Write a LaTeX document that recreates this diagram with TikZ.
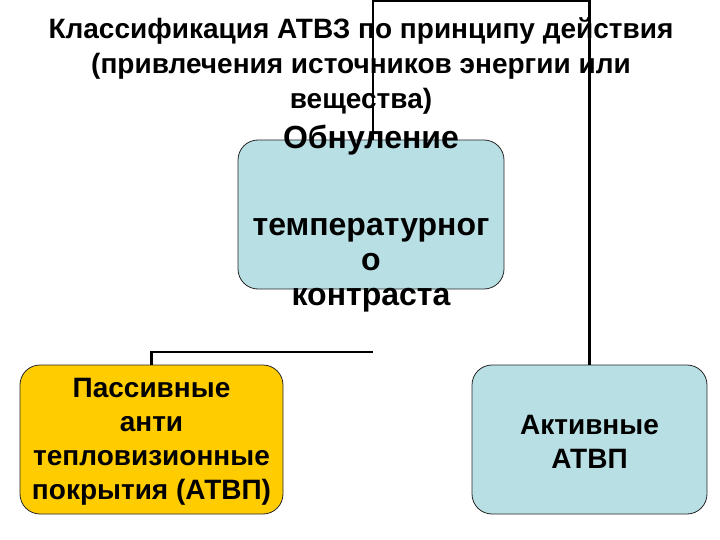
\documentclass[tikz,border=0pt]{standalone}
\usepackage{fontspec}
\setmainfont{Liberation Sans}
\usetikzlibrary{positioning}
\definecolor{paleteal}{HTML}{B8DFE3}
\definecolor{goldyellow}{HTML}{FFCC00}

\begin{document}
\begin{tikzpicture}[x=1pt, y=-1pt,
    box/.style={draw=black!85, line width=0.8pt, rounded corners=20pt, minimum height=149pt},
    boxtext/.style={align=center, font=\bfseries\fontsize{28}{34}\selectfont},
    link/.style={line width=2.4pt}]
  \useasboundingbox (0,0) rectangle (720,540);
  % boxes
  \node[box, fill=paleteal, minimum width=266pt] (zero) at (371,214.5) {};
  \node[box, fill=goldyellow, minimum width=263pt] (passive) at (151.5,439.5) {};
  \node[box, fill=paleteal, minimum width=235pt] (active) at (589.5,439.5) {};
  % connectors
  \coordinate (topbend) at (373,1);
  \coordinate (leftend) at (373,352);
  \draw[link] (zero.north -| topbend) -- (topbend) -| (active.north);
  \draw[link] (passive.north) |- (leftend);
  % texts
  \node[font=\bfseries\fontsize{28}{35}\selectfont, align=center] (title) at (361,66)
    {Классификация АТВЗ по принципу действия\\(привлечения источников энергии или\\вещества)};
  \node[align=center, font=\bfseries\fontsize{32}{35}\selectfont] (zerotext) at (371,219)
    {Обнуление\\[52pt]температурног\\о\\контраста};
  \node[boxtext] (passivetext) at (151.5,442) {Пассивные\\анти\\тепловизионные\\покрытия (АТВП)};
  \node[boxtext] (activetext) at (589.5,442) {Активные\\АТВП};
\end{tikzpicture}
\end{document}
